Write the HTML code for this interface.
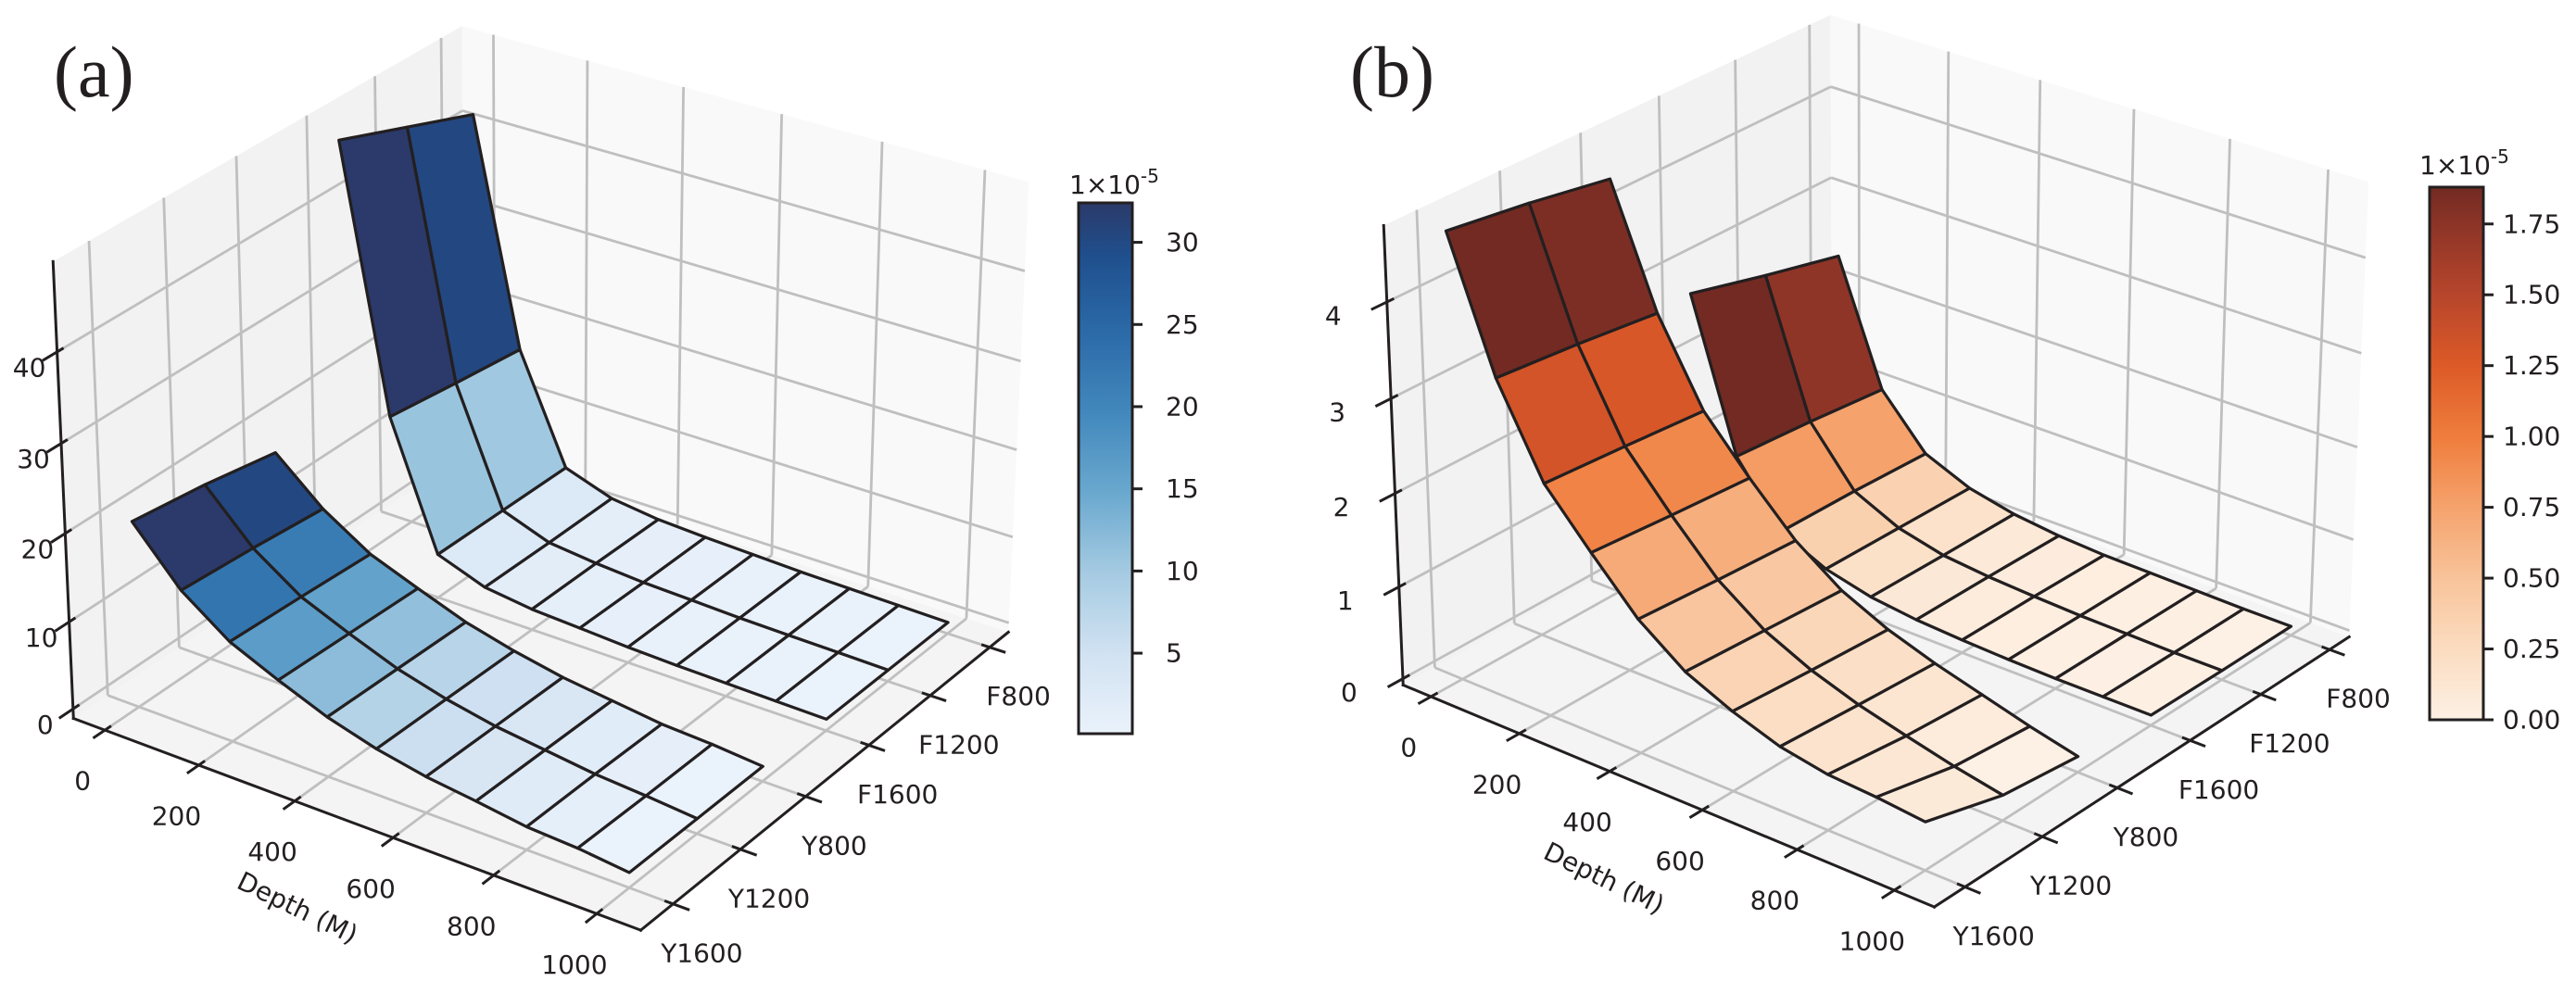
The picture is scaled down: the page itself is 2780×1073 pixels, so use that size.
<!DOCTYPE html>
<html><head><meta charset="utf-8">
<style>
html,body{margin:0;padding:0;background:#fff;}
svg{display:block}
text{font-family:"DejaVu Sans","Liberation Sans",sans-serif;fill:#231f20}
.ttl{font-family:"Liberation Serif",serif;font-size:78px}
</style></head>
<body>
<svg id="fig" width="2780" height="1073" viewBox="0 0 2780 1073">
<defs id="defs"></defs>
<g id="panelA"></g>
<g id="panelB"></g>
<text class="ttl" x="58" y="104">(a)</text>
<text class="ttl" x="1457" y="104">(b)</text>
</svg>
<script>
// ---------- data ----------
const depths = [0,100,200,300,400,500,600,700,800,900,1000];
const categories = ['Y1600','Y1200','Y800','F1600','F1200','F800'];
const depthTicks = [0,200,400,600,800,1000];
const zTicksA = [0,10,20,30,40];
const zTicksB = [0,1,2,3,4];
const cbTicksA = [5,10,15,20,25,30];
const cbTicksB = [0,0.25,0.5,0.75,1.0,1.25,1.5,1.75];
// panel (a) values per category column (×1e-5)
const aY1600 = [20.1,14.2,10.3,7.9,5.7,4.1,3.0,2.3,1.5,1.2,0.6];
const aY1200 = [19.0,13.6,9.9,7.6,5.5,4.0,2.9,2.2,1.5,1.1,0.6];
const aY800  = [17.5,12.8,9.4,7.3,5.3,3.9,2.8,2.1,1.4,1.1,0.6];
const aF1600 = [48,18.3,4,2,1.3,1.0,0.7,0.5,0.4,0.3,0.2];
const aF1200 = [45,17.2,3.9,1.9,1.3,0.9,0.7,0.5,0.4,0.3,0.2];
const aF800  = [42,16.2,3.8,1.9,1.2,0.9,0.7,0.5,0.4,0.3,0.2];
// panel (b)
const bY1600 = [4.67,3.33,2.41,1.87,1.36,1.0,0.78,0.61,0.52,0.49,0.44];
const bY1200 = [4.55,3.25,2.35,1.8,1.3,0.95,0.72,0.55,0.42,0.3,0.2];
const bY800  = [4.4,3.15,2.28,1.74,1.25,0.9,0.67,0.5,0.36,0.22,0.1];
const bF1600 = [2.77,1.16,0.51,0.28,0.16,0.1,0.07,0.05,0.04,0.04,0.04];
const bF1200 = [2.55,1.1,0.5,0.27,0.15,0.1,0.07,0.05,0.04,0.03,0.03];
const bF800  = [2.35,1.02,0.47,0.26,0.15,0.09,0.06,0.05,0.04,0.03,0.03];

// ---------- styles ----------
const blueStops = [[0,'#eaf2fb'],[0.15,'#d1e2f2'],[0.3,'#a6cbe2'],[0.45,'#6ba9cf'],[0.6,'#4389bd'],[0.75,'#2c6ba9'],[0.9,'#1f4f8d'],[1,'#2b3a6a']];
const orangeStops = [[0,'#fdf0e4'],[0.133,'#fbdcc0'],[0.266,'#f8c39a'],[0.4,'#f5a26c'],[0.53,'#ef7d3d'],[0.665,'#dc5a27'],[0.8,'#b6452c'],[0.93,'#8c3427'],[1,'#722a22']];
const NS = 'http://www.w3.org/2000/svg';
const DARK = '#231f20';

function mk(parent, tag, attrs){
  const e = document.createElementNS(NS, tag);
  for (const k in attrs) e.setAttribute(k, attrs[k]);
  parent.appendChild(e);
  return e;
}
function hex2rgb(h){return [parseInt(h.substr(1,2),16),parseInt(h.substr(3,2),16),parseInt(h.substr(5,2),16)];}
function cmap(stops, t){
  t = Math.max(0, Math.min(1, t));
  for (let i=0;i<stops.length-1;i++){
    const a=stops[i], b=stops[i+1];
    if (t<=b[0]){
      const f=(t-a[0])/(b[0]-a[0]); const ca=hex2rgb(a[1]), cb=hex2rgb(b[1]);
      return 'rgb('+ca.map((v,k)=>Math.round(v+(cb[k]-v)*f)).join(',')+')';
    }
  }
  return stops[stops.length-1][1];
}
function solve(M, r){
  const n=r.length;
  for (let i=0;i<n;i++){
    let p=i; for (let k=i+1;k<n;k++) if (Math.abs(M[k][i])>Math.abs(M[p][i])) p=k;
    [M[i],M[p]]=[M[p],M[i]]; [r[i],r[p]]=[r[p],r[i]];
    for (let k=i+1;k<n;k++){ const f=M[k][i]/M[i][i]; for (let j=i;j<n;j++) M[k][j]-=f*M[i][j]; r[k]-=f*r[i]; }
  }
  const x=new Array(n).fill(0);
  for (let i=n-1;i>=0;i--){ let s=r[i]; for (let j=i+1;j<n;j++) s-=M[i][j]*x[j]; x[i]=s/M[i][i]; }
  return x;
}
function fitDLT(pairs){
  const A=[], b=[];
  pairs.forEach(([X,Y,Z,x,y])=>{
    A.push([X,Y,Z,1,0,0,0,0,-x*X,-x*Y,-x*Z]); b.push(x);
    A.push([0,0,0,0,X,Y,Z,1,-y*X,-y*Y,-y*Z]); b.push(y);
  });
  const M=[], r=[];
  for (let i=0;i<11;i++){ M.push([]); let s=0;
    for (let j=0;j<11;j++){ let t=0; for (let k=0;k<A.length;k++) t+=A[k][i]*A[k][j]; M[i].push(t); }
    for (let k=0;k<A.length;k++) s+=A[k][i]*b[k]; r.push(s); }
  return solve(M, r);
}

function buildPanel(cfg){
  const g = document.getElementById(cfg.id);
  const C = cfg.corners;
  const p = fitDLT([[0,0,0,...C.L],[1,0,0,...C.F],[1,1,0,...C.R],[0,0,1,...C.Lt],[0,1,1,...C.Bt],[1,1,1,...C.Rt]]);
  const P = (u,v,w)=>{ const d=p[8]*u+p[9]*v+p[10]*w+1;
    return [(p[0]*u+p[1]*v+p[2]*w+p[3])/d,(p[4]*u+p[5]*v+p[6]*w+p[7])/d]; };
  const U = d=>(d-cfg.dLim[0])/(cfg.dLim[1]-cfg.dLim[0]);
  const V = c=>(c-cfg.cLim[0])/(cfg.cLim[1]-cfg.cLim[0]);
  const W = z=>(z-cfg.zLim[0])/(cfg.zLim[1]-cfg.zLim[0]);
  const pts = arr=>arr.map(q=>P(...q).map(n=>n.toFixed(1)).join(',')).join(' ');
  const panes = [
    ['left-wall-pane','#f2f2f2',[[0,0,0],[0,1,0],[0,1,1],[0,0,1]]],
    ['right-wall-pane','#f9f9f9',[[0,1,0],[1,1,0],[1,1,1],[0,1,1]]],
    ['floor-pane','#f4f4f4',[[0,0,0],[1,0,0],[1,1,0],[0,1,0]]]];
  panes.forEach(([nm,col,q])=>{
    const e = mk(g,'polygon',{points:pts(q),fill:col});
    
    
  });
  const grid = mk(g,'g',{stroke:'#bfbfbf','stroke-width':2.8,fill:'none'});
  
  
  const line=(a,b)=>{ const A=P(...a), B=P(...b); return mk(grid,'line',{x1:A[0],y1:A[1],x2:B[0],y2:B[1]}); };
  categories.forEach((c,i)=>{ const v=V(i);
    line([0,v,0],[0,v,1]);
    line([0,v,0],[1,v,0]); });
  depthTicks.forEach(d=>{ const u=U(d);
    line([u,1,0],[u,1,1]);
    line([u,0,0],[u,1,0]); });
  cfg.zTicks.forEach(z=>{ const w=W(z);
    line([0,0,w],[0,1,w]);
    line([0,1,w],[1,1,w]); });
  const ax = mk(g,'g',{stroke:DARK,'stroke-width':3,fill:'none','stroke-linecap':'square'});
  
  
  const aline=(a,b,nm)=>{ const A=P(...a), B=P(...b); const e=mk(ax,'line',{x1:A[0],y1:A[1],x2:B[0],y2:B[1]});
     return e; };
  aline([0,0,0],[1,0,0],'depth-axis-line');
  aline([1,0,0],[1,1,0],'category-axis-line');
  aline([0,0,0],[0,0,1],'z-axis-line');
  const lab = mk(g,'g',{'font-size':28,'text-anchor':'middle','dominant-baseline':'central'});
  
  
  depthTicks.forEach(d=>{ const u=U(d);
    aline([u,-0.025,0],[u,0.012,0],'depth-tick');
    const q=P(u,0,0); const t=mk(lab,'text',{x:q[0]-24,y:q[1]+55}); t.textContent=String(d);
     });
  categories.forEach((c,i)=>{ const v=V(i);
    aline([0.988,v,0],[1.025,v,0],'category-tick');
    const q=P(1,v,0); const t=mk(lab,'text',{x:q[0]+31,y:q[1]+53}); t.textContent=c;
     });
  cfg.zTicks.forEach(z=>{ const w=W(z);
    aline([0,-0.03,w],[0,0.012,w],'z-tick');
    const q=P(0,0,w); const t=mk(lab,'text',{x:q[0]+cfg.zLabOff[0],y:q[1]+cfg.zLabOff[1]}); t.textContent=String(z);
     });
  const xt = mk(g,'text',{x:cfg.title[0],y:cfg.title[1],'font-size':28,'text-anchor':'middle','dominant-baseline':'central',
    transform:'rotate(26 '+cfg.title[0]+' '+cfg.title[1]+')'});
  xt.textContent='Depth (M)';
  
  
  const cells=[];
  cfg.surfaces.forEach(idx=>{
    const list=[];
    for (let j=0;j<idx.length-1;j++) for (let i=0;i<depths.length-1;i++){
      const c0=idx[j], c1=idx[j+1], A=cfg.cols[c0], B=cfg.cols[c1];
      const avg=(A[i]+A[i+1]+B[i]+B[i+1])/4;
      list.push({i,c0,c1,avg,q:[[U(depths[i]),V(c0),W(A[i])],[U(depths[i+1]),V(c0),W(A[i+1])],[U(depths[i+1]),V(c1),W(B[i+1])],[U(depths[i]),V(c1),W(B[i])]]});
    }
    const mn=Math.min(...list.map(o=>o.avg)), mx=Math.max(...list.map(o=>o.avg));
    list.forEach(o=>{ o.col=cmap(cfg.stops,(o.avg-mn)/(mx-mn));
      o.key=(o.q[0][0]+o.q[2][0])/2-(o.q[0][1]+o.q[2][1])/2; cells.push(o); });
  });
  cells.sort((a,b)=>a.key-b.key);
  const sg = mk(g,'g',{stroke:DARK,'stroke-width':3.2,'stroke-linejoin':'round'});
  
  
  cells.forEach(o=>{
    const e=mk(sg,'polygon',{points:pts(o.q),fill:o.col});
    
    
  });
  const cb=cfg.cb;
  const gid='grad'+cfg.id;
  const gr=mk(document.getElementById('defs'),'linearGradient',{id:gid,x1:0,y1:1,x2:0,y2:0});
  cfg.stops.forEach(s=>mk(gr,'stop',{offset:s[0],'stop-color':s[1]}));
  const cg=mk(g,'g',{});
  
  
  const r=mk(cg,'rect',{x:cb.x,y:cb.y,width:cb.w,height:cb.h,fill:'url(#'+gid+')',stroke:DARK,'stroke-width':3});
  
  const yv=v=>cb.y+cb.h-(v-cb.lo)/(cb.hi-cb.lo)*cb.h;
  cb.ticks.forEach(v=>{ const y=yv(v);
    const tk=mk(cg,'line',{x1:cb.x+cb.w,y1:y,x2:cb.x+cb.w+11,y2:y,stroke:DARK,'stroke-width':3});
    
    const t=mk(cg,'text',{x:cb.x+cb.w+cb.gap,y:y,'font-size':28,'dominant-baseline':'central'});
    t.textContent=cb.fmt(v);
     });
  const ex=mk(cg,'text',{x:cb.ex[0],y:cb.ex[1],'font-size':28});
  ex.textContent='1×10';
  const sup=mk(ex,'tspan',{dy:-12,'font-size':20});
  sup.textContent='-5';
  
}

buildPanel({id:'panelA',
  corners:{L:[79,775],F:[692,1004],R:[1088,683],Lt:[57,283],Bt:[499,28],Rt:[1110,196]},
  dLim:[-68,1084], cLim:[-0.47,5.32], zLim:[-1.1,49.7], zTicks:zTicksA, zLabOff:[-30,17],
  title:[321,980], cols:[aY1600,aY1200,aY800,aF1600,aF1200,aF800], surfaces:[[0,1,2],[3,4,5]],
  stops:blueStops,
  cb:{x:1164,y:219,w:58,h:573,lo:0.1,hi:32.4,ticks:cbTicksA,gap:36,fmt:v=>String(v),ex:[1154,209]}});
buildPanel({id:'panelB',
  corners:{L:[1514,739],F:[2088,979],R:[2535,688],Lt:[1493,244],Bt:[1976,16],Rt:[2556,196]},
  dLim:[-64,1081], cLim:[-0.39,5.29], zLim:[-0.07,4.78], zTicks:zTicksB, zLabOff:[-58,15],
  title:[1731,948], cols:[bY1600,bY1200,bY800,bF1600,bF1200,bF800], surfaces:[[0,1,2],[3,4,5]],
  stops:orangeStops,
  cb:{x:2622,y:202,w:58,h:575,lo:0,hi:1.88,ticks:cbTicksB,gap:21,fmt:v=>v.toFixed(2),ex:[2611,188]}});
</script>
</body></html>
